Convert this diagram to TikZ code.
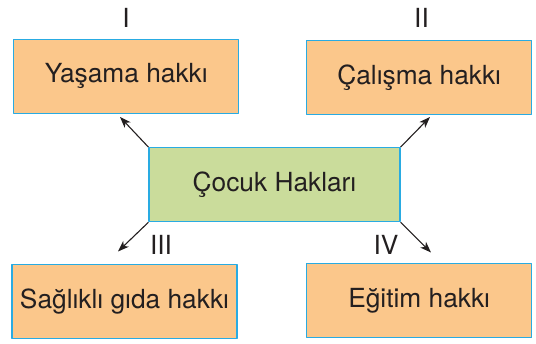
\documentclass[tikz,border=0pt]{standalone}
\usepackage{fontspec}
\setmainfont{TeX Gyre Heros}
\usetikzlibrary{arrows.meta}
\definecolor{hakorange}{HTML}{FBC78B}
\definecolor{hakgreen}{HTML}{CADC9B}
\definecolor{hakblue}{HTML}{29ABE2}
\definecolor{haktext}{HTML}{231F20}
\begin{document}
\begin{tikzpicture}[x=1pt, y=-1pt, line join=round, >={Stealth[length=11pt,width=8pt,inset=3pt]},
		font=\fontsize{26.3}{30}\selectfont\color{haktext}]
	\tikzset{
		hakbox/.style={draw=hakblue, line width=1.2pt, fill=hakorange, minimum width=225pt, minimum height=74pt, inner sep=0pt},
		merkez/.style={hakbox, fill=hakgreen, minimum width=251pt},
		numara/.style={inner sep=0pt},
		ok/.style={->, line width=1.1pt, draw=haktext}
	}
	\useasboundingbox (0,0) rectangle (536,344);
	% kutular
	\node[merkez] (cocuk) at (274.5,184.7) {Çocuk Hakları};
	\node[hakbox] (yasama) at (126.3,76.3) {Yaşama hakkı};
	\node[hakbox] (calisma) at (419.2,77.3) {Çalışma hakkı};
	\node[hakbox] (gida) at (124.5,301.5) {Sağlıklı gıda hakkı};
	\node[hakbox] (egitim) at (419.2,300.8) {Eğitim hakkı};
	% numaralar
	\node[numara] (n1) at (126,18) {I};
	\node[numara] (n2) at (421.5,18) {II};
	\node[numara] (n3) at (161,245) {III};
	\node[numara] (n4) at (386,245) {IV};
	% oklar
	\coordinate (u1) at (120,117);
	\coordinate (u2) at (430,117);
	\coordinate (u3) at (118,251.5);
	\coordinate (u4) at (431,252.5);
	\draw[ok] (cocuk.north west) -- (u1);
	\draw[ok] (cocuk.north east) -- (u2);
	\draw[ok] (cocuk.south west) -- (u3);
	\draw[ok] (cocuk.south east) -- (u4);
\end{tikzpicture}
\end{document}
